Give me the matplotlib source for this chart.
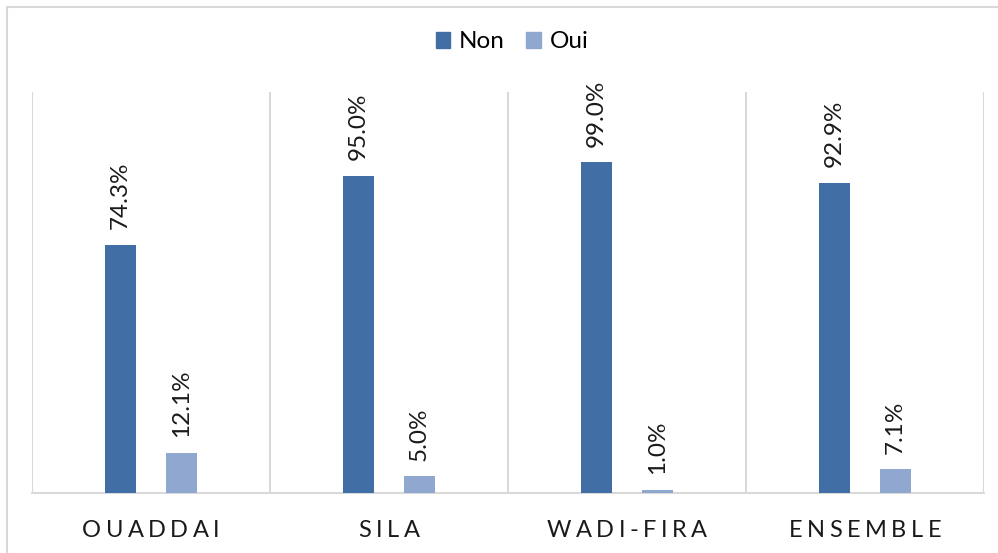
import matplotlib
matplotlib.use("Agg")
import matplotlib.pyplot as plt
from matplotlib.patches import Rectangle, Patch
from matplotlib.font_manager import FontProperties, findfont
from matplotlib.ft2font import FT2Font
import numpy as np

categories = ["OUADDAI", "SILA", "WADI-FIRA", "ENSEMBLE"]
non_values = [74.3, 95.0, 99.0, 92.9]
oui_values = [12.1, 5.0, 1.0, 7.1]
series_names = ["Non", "Oui"]
colors = ["#406EA5", "#90A8D0"]

plt.rcParams['font.family'] = ['Lato', 'DejaVu Sans']
W, H = 998, 553
fig = plt.figure(figsize=(W/100, H/100), dpi=100)
ax = fig.add_axes([32/W, (H-493)/H, (984-32)/W, (493-92)/H])

x = np.arange(len(categories))
bw = 0.134
off = 0.128
b1 = ax.bar(x - off, non_values, bw, color=colors[0], zorder=3)
b2 = ax.bar(x + off, oui_values, bw, color=colors[1], zorder=3)

for bars, vals in ((b1, non_values), (b2, oui_values)):
    for rect, v in zip(bars, vals):
        ax.annotate(f"{v:.1f}%", (rect.get_x() + rect.get_width()/2, rect.get_height()),
                    xytext=(0, 11), textcoords="offset points", rotation=90,
                    ha="center", va="bottom", fontsize=17.5, color="#1a1a1a")

ax.set_xlim(-0.5, len(categories) - 0.5)
ax.set_ylim(0, 120)
for b in np.arange(-0.5, len(categories), 1.0):
    ax.axvline(b, color="#d9d9d9", lw=1.5, zorder=1)
for s in ["top", "left", "right"]:
    ax.spines[s].set_visible(False)
ax.spines["bottom"].set_color("#d9d9d9")
ax.spines["bottom"].set_linewidth(1.5)
ax.set_yticks([])
ax.set_xticks([])

# letter-spaced category labels
cat_fs = 17
spacing = 3.2  # points
font = FT2Font(findfont(FontProperties(family="Lato")))
font.set_size(cat_fs, 72)
def adv(ch):
    return font.load_char(ord(ch)).linearHoriAdvance / 65536.0
for xi, label in zip(x, categories):
    advs = [adv(c) for c in label]
    total = sum(advs) + spacing * (len(label) - 1)
    pos = -total / 2
    for c, a in zip(label, advs):
        ax.annotate(c, (xi, 0), xytext=(pos, -31.7), textcoords="offset points",
                    ha="left", va="baseline", fontsize=cat_fs, color="#1a1a1a",
                    annotation_clip=False)
        pos += a + spacing

handles = [Patch(color=c, label=n) for c, n in zip(colors, series_names)]
fig.legend(handles=handles, loc="center", bbox_to_anchor=(512/W, (H-42)/H), ncol=2,
           frameon=False, fontsize=17.5, handlelength=0.6, handleheight=0.6,
           handletextpad=0.35, columnspacing=0.9)

fig.patches.append(Rectangle((7/W, -0.1), 1.2, (H-7)/H + 0.1, transform=fig.transFigure,
                             fill=False, edgecolor="#d9d9d9", lw=1.5))

fig.savefig("out.png", dpi=100)
